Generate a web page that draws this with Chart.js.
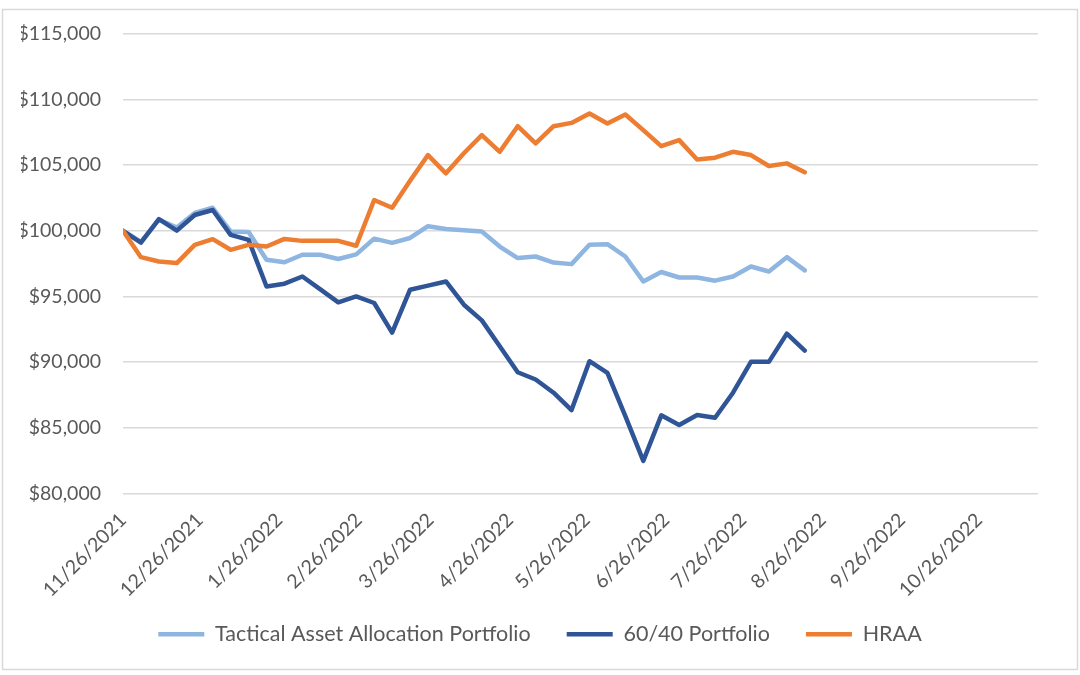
<!DOCTYPE html>
<html>
<head>
<meta charset="utf-8">
<script src="https://cdn.jsdelivr.net/npm/chart.js@4/dist/chart.umd.min.js"></script>
<style>
  html, body { margin: 0; padding: 0; background: #ffffff; }
  #wrap { position: relative; width: 1080px; height: 675px; }
</style>
</head>
<body>
<div id="wrap"><canvas id="c" width="1080" height="675"></canvas></div>
<script>
// ---- Data ----
const weekDates = [
  '11/26/2021', '12/3/2021', '12/10/2021', '12/17/2021', '12/24/2021', '12/31/2021',
  '1/7/2022', '1/14/2022', '1/21/2022', '1/28/2022',
  '2/4/2022', '2/11/2022', '2/18/2022', '2/25/2022',
  '3/4/2022', '3/11/2022', '3/18/2022', '3/25/2022',
  '4/1/2022', '4/8/2022', '4/15/2022', '4/22/2022', '4/29/2022',
  '5/6/2022', '5/13/2022', '5/20/2022', '5/27/2022',
  '6/3/2022', '6/10/2022', '6/17/2022', '6/24/2022',
  '7/1/2022', '7/8/2022', '7/15/2022', '7/22/2022', '7/29/2022',
  '8/5/2022', '8/12/2022', '8/19/2022'
];

const tacticalValues = [
  100000, 99150, 100850, 100250, 101350, 101750,
  99950, 99900, 97800, 97600,
  98170, 98170, 97850, 98200,
  99400, 99080, 99450, 100350,
  100140, 100040, 99940, 98800, 97920,
  98040, 97580, 97460, 98930,
  98980, 98040, 96140, 96860,
  96440, 96440, 96200, 96520, 97280,
  96900, 97990, 96980
];

const sixtyFortyValues = [
  100000, 99100, 100880, 100010, 101200, 101580,
  99690, 99310, 95760, 95970,
  96520, 95540, 94550, 95000,
  94500, 92250, 95510, 95820,
  96140, 94370, 93180, 91210, 89230,
  88680, 87670, 86350, 90070,
  89190, 85890, 82480, 85950,
  85210, 85970, 85770, 87670, 90020,
  90020, 92170, 90880
];

const hraaValues = [
  100000, 97990, 97660, 97540, 98930, 99360,
  98550, 98930, 98800, 99380,
  99230, 99230, 99230, 98860,
  102340, 101750, 103800, 105760,
  104370, 105900, 107280, 106010, 107960,
  106650, 107960, 108210, 108930,
  108170, 108850, 107660, 106440,
  106900, 105430, 105560, 106010, 105760,
  104930, 105130, 104450
];

const seriesNames = ['Tactical Asset Allocation Portfolio', '60/40 Portfolio', 'HRAA'];

const xTickLabels = [
  '11/26/2021', '12/26/2021', '1/26/2022', '2/26/2022', '3/26/2022', '4/26/2022',
  '5/26/2022', '6/26/2022', '7/26/2022', '8/26/2022', '9/26/2022', '10/26/2022'
];
const xAxisStart = '11/26/2021';
const xAxisEnd = '11/18/2022';

const yAxisMin = 80000;
const yAxisMax = 115000;
const yAxisStep = 5000;

// ---- Helpers ----
function dayNumber(s) {
  const [m, d, y] = s.split('/').map(Number);
  return Date.UTC(y, m - 1, d) / 86400000;
}
const baseDay = dayNumber(xAxisStart);
const dayOffset = s => dayNumber(s) - baseDay;
const toPoints = vals => vals.map((v, i) => ({ x: dayOffset(weekDates[i]), y: v }));

const FONT = 'Lato, "Open Sans", sans-serif';
const TEXT_COLOR = '#595959';
const GRID_COLOR = '#D9D9D9';

const frame = {
  id: 'frame',
  beforeDraw(chart) {
    const ctx = chart.ctx;
    ctx.save();
    ctx.fillStyle = '#ffffff';
    ctx.fillRect(0, 0, chart.width, chart.height);
    ctx.strokeStyle = '#D9D9D9';
    ctx.lineWidth = 1.5;
    ctx.strokeRect(2.5, 9.5, 1075, 660);
    ctx.restore();
  }
};

const lineDataset = (label, vals, color, order) => ({
  label,
  data: toPoints(vals),
  borderColor: color,
  backgroundColor: color,
  borderWidth: 4.5,
  borderCapStyle: 'round',
  borderJoinStyle: 'round',
  pointRadius: 0,
  pointHoverRadius: 0,
  tension: 0,
  fill: false,
  order
});

new Chart(document.getElementById('c'), {
  type: 'line',
  data: {
    datasets: [
      lineDataset(seriesNames[0], tacticalValues, '#8FB5E1', 2),
      lineDataset(seriesNames[1], sixtyFortyValues, '#2F5597', 1),
      lineDataset(seriesNames[2], hraaValues, '#ED7D31', 0)
    ]
  },
  plugins: [frame],
  options: {
    responsive: false,
    animation: false,
    devicePixelRatio: 1,
    layout: { padding: { top: 33, right: 21, left: 21, bottom: 20 } },
    plugins: {
      tooltip: { enabled: false },
      legend: {
        position: 'bottom',
        labels: {
          color: TEXT_COLOR,
          font: { family: FONT, size: 21.5 },
          usePointStyle: true,
          pointStyle: 'line',
          pointStyleWidth: 46,
          padding: 36,
          sort: (a, b) => a.datasetIndex - b.datasetIndex
        }
      }
    },
    scales: {
      x: {
        type: 'linear',
        min: 0,
        max: dayOffset(xAxisEnd),
        afterBuildTicks: s => { s.ticks = xTickLabels.map(l => ({ value: dayOffset(l) })); },
        afterFit: s => {
          s.height = 94;
          // let the rotated labels run below the axis box without being clipped
          s._computeLabelArea = () => undefined;
        },
        grid: { display: false, drawTicks: false },
        border: { display: false },
        ticks: {
          autoSkip: false,
          minRotation: 45,
          maxRotation: 45,
          padding: 15,
          color: TEXT_COLOR,
          font: { family: FONT, size: 19.5 },
          callback: (v, i) => xTickLabels[i]
        }
      },
      y: {
        min: yAxisMin,
        max: yAxisMax,
        afterFit: s => { s.width = 102; },
        grid: { color: GRID_COLOR, lineWidth: 1.5, drawTicks: false },
        border: { display: false },
        ticks: {
          stepSize: yAxisStep,
          padding: 22,
          color: TEXT_COLOR,
          font: { family: FONT, size: 19.5 },
          callback: v => '$' + v.toLocaleString('en-US')
        }
      },
      yPad: {
        position: 'right',
        display: true,
        afterFit: s => { s.width = 21; },
        grid: { display: false, drawTicks: false },
        border: { display: false },
        ticks: { display: false }
      }
    }
  }
});
</script>
</body>
</html>
